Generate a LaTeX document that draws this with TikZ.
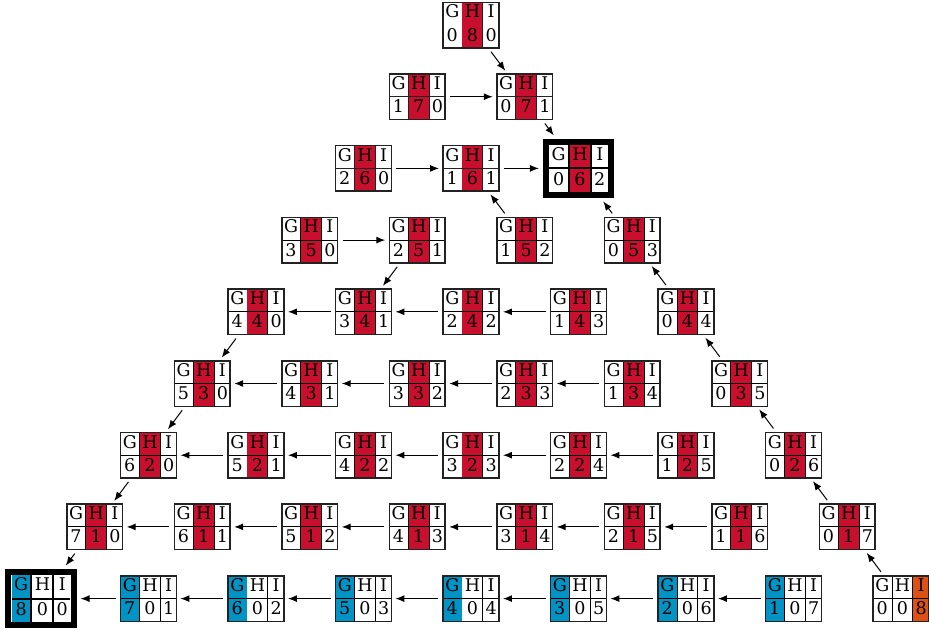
\documentclass[tikz,border=0pt]{standalone}
\usepackage{fontspec}
\setmainfont{DejaVu Serif}
\usepackage{colortbl}
\usetikzlibrary{arrows.meta}
\definecolor{hred}{HTML}{C8102E}
\definecolor{gblue}{HTML}{0093C4}
\definecolor{iorange}{HTML}{DD5214}
\definecolor{gridgray}{HTML}{222222}
\newcommand{\jugfont}{\fontsize{17.5}{22.3}\selectfont}
\setlength\tabcolsep{2.3pt}
\setlength\arrayrulewidth{0.9pt}
\arrayrulecolor{gridgray}
% one jug state: colours of the G/H/I columns, then the three amounts
\newcommand{\jugtab}[6]{%
  \begin{tabular}{c|c|c}
    \relax\cellcolor{#1}G & \relax\cellcolor{#2}H & \relax\cellcolor{#3}I\\ \hline
    \relax\cellcolor{#1}#4 & \relax\cellcolor{#2}#5 & \relax\cellcolor{#3}#6
  \end{tabular}}

\begin{document}
\begin{tikzpicture}[
    x=1pt, y=-1pt,
    state/.style={inner sep=0pt, outer sep=0pt, font=\jugfont},
    goal/.style={inner sep=3.5pt, outer sep=3pt, font=\jugfont,
      execute at begin node={\setlength\arrayrulewidth{2pt}\arrayrulecolor{black}}},
    stateframe/.style={draw=gridgray, line width=1.5pt},
    goalframe/.style={draw=black, line width=6pt},
    move/.style={-{Latex[length=9pt,width=7pt]}, line width=1pt,
      shorten >=4pt, shorten <=5pt}
  ]
  \useasboundingbox (0,0) rectangle (929,630);
  % the triangle of states (g,h,i), g+h+i=8
  \foreach \r in {0,...,8}{
    \foreach \k in {0,...,\r}{
      \pgfmathtruncatemacro\g{\r-\k}
      \pgfmathtruncatemacro\h{8-\r}
      \pgfmathtruncatemacro\isgoal{or(and(\h==6,\g==0),\g==8)}
      \def\cG{white}\def\cH{white}\def\cI{white}
      \ifnum\h>0 \def\cH{hred}\else\ifnum\g>0 \def\cG{gblue}\else\def\cI{iorange}\fi\fi
      \ifnum\isgoal=1 \def\kind{goal}\else\def\kind{state}\fi
      \node[\kind] (s\g\h\k) at ({471+53.75*(2*\k-\r)}, {25+71.7*\r})
        {\jugtab{\cG}{\cH}{\cI}{\g}{\h}{\k}};
      \ifnum\isgoal=1
        \draw[goalframe] ([shift={(3pt,3pt)}]s\g\h\k.south west)
          rectangle ([shift={(-3pt,-3pt)}]s\g\h\k.north east);
      \else
        \draw[stateframe] (s\g\h\k.south west) rectangle (s\g\h\k.north east);
      \fi
    }
  }
  % single moves
  \foreach \a/\b in {s080/s071, s170/s071, s071/s062, s260/s161, s161/s062,
                     s350/s251, s251/s341, s152/s161}
    \draw[move] (\a) -- (\b);
  % right edge, going up
  \foreach \h in {0,...,5}{
    \pgfmathtruncatemacro\hh{\h+1}
    \pgfmathtruncatemacro\i{8-\h}
    \pgfmathtruncatemacro\ii{7-\h}
    \draw[move] (s0\h\i) -- (s0\hh\ii);
  }
  % left edge, going down
  \foreach \g in {4,...,7}{
    \pgfmathtruncatemacro\gg{\g+1}
    \pgfmathtruncatemacro\h{8-\g}
    \pgfmathtruncatemacro\hh{7-\g}
    \draw[move] (s\g\h0) -- (s\gg\hh0);
  }
  % rows, going left
  \foreach \r in {4,...,8}{
    \pgfmathtruncatemacro\kmax{\r-1}
    \foreach \k in {1,...,\kmax}{
      \pgfmathtruncatemacro\g{\r-\k}
      \pgfmathtruncatemacro\gg{\r-\k+1}
      \pgfmathtruncatemacro\h{8-\r}
      \pgfmathtruncatemacro\kk{\k-1}
      \draw[move] (s\g\h\k) -- (s\gg\h\kk);
    }
  }
\end{tikzpicture}
\end{document}
